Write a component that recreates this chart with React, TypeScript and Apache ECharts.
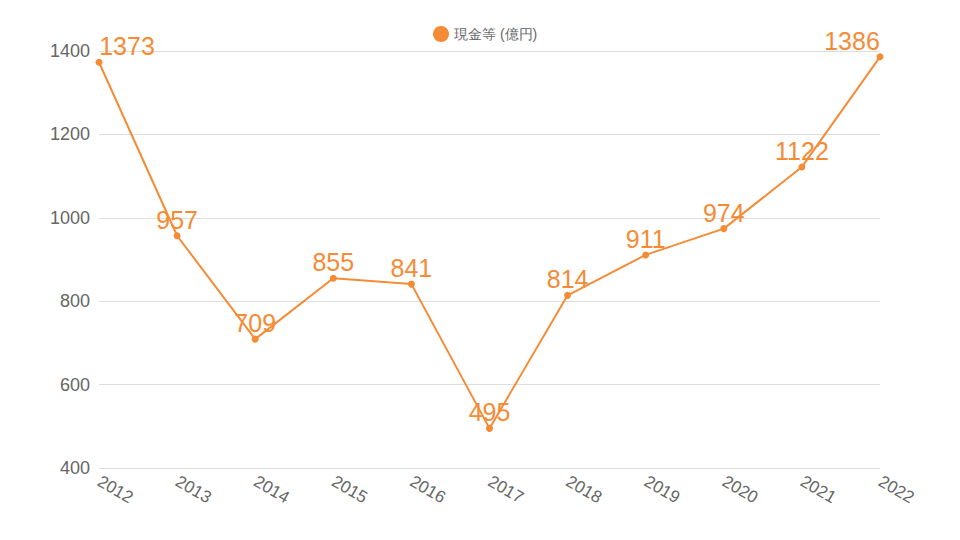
import React, { useEffect, useRef } from "react";
import * as echarts from "echarts";

const categories = ["2012", "2013", "2014", "2015", "2016", "2017", "2018", "2019", "2020", "2021", "2022"];
const cashValues = [1373, 957, 709, 855, 841, 495, 814, 911, 974, 1122, 1386];
const seriesName = "現金等 (億円)";
const ORANGE = "#f58b35";

export default function App() {
  const ref = useRef<HTMLDivElement>(null);
  useEffect(() => {
    if (!ref.current) return;
    const chart = echarts.init(ref.current, undefined, { renderer: "svg" });
    const last = cashValues.length - 1;
    chart.setOption({
      animation: false,
      textStyle: { fontFamily: "Liberation Sans, Arial, sans-serif" },
      legend: {
        top: 21,
        left: 428,
        icon: "circle",
        itemWidth: 16,
        itemHeight: 16,
        itemGap: 6,
        textStyle: { color: "#666", fontSize: 14 },
        data: [seriesName],
      },
      grid: { left: 99, right: 80, top: 51, bottom: 72, containLabel: false },
      xAxis: {
        type: "category",
        data: categories,
        boundaryGap: false,
        axisLine: { show: false },
        axisTick: { show: false },
        splitLine: { show: false },
        axisLabel: { rotate: -30, color: "#666", fontSize: 17, margin: 12 },
      },
      yAxis: {
        type: "value",
        min: 400,
        max: 1400,
        interval: 200,
        axisLine: { show: false },
        axisTick: { show: false },
        splitLine: { lineStyle: { color: "#dddddd", width: 1 } },
        axisLabel: { color: "#666", fontSize: 18, margin: 9, formatter: (v: number) => String(v) },
      },
      series: [
        {
          name: seriesName,
          type: "line",
          data: cashValues.map((v, i) => ({
            value: v,
            label:
              i === 0
                ? { offset: [28, 0] }
                : i === last
                ? { offset: [-28, 0] }
                : {},
          })),
          color: ORANGE,
          symbol: "circle",
          symbolSize: 7,
          lineStyle: { width: 2, color: ORANGE },
          itemStyle: { color: ORANGE },
          label: {
            show: true,
            position: "top",
            distance: 0,
            color: ORANGE,
            fontSize: 25,
            letterSpacing: -1,
          },
        },
      ],
    });
    return () => chart.dispose();
  }, []);
  return <div ref={ref} style={{ width: 960, height: 540, margin: -8 }} />;
}
